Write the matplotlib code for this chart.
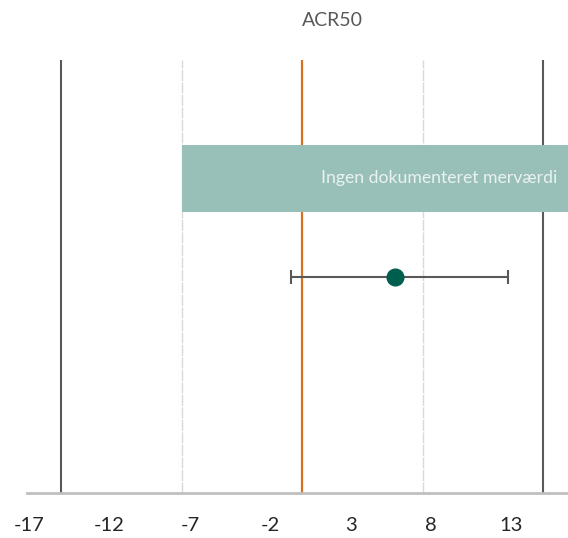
import matplotlib
matplotlib.use("Agg")
import matplotlib.pyplot as plt

plt.rcParams['font.family'] = ['Lato', 'DejaVu Sans']

title = "ACR50"
x_ticks = [-17, -12, -7, -2, 3, 8, 13]
boundary_lines = [-15, 15]
threshold_lines = [-7.5, 7.5]
null_line = 0
band_start = -7.5
band_label = "Ingen dokumenteret merværdi"
estimate = 5.75
ci_low = -0.7
ci_high = 12.8

fig = plt.figure(figsize=(5.68, 5.38), dpi=100)
ax = fig.add_axes([27 / 568, 1 - 493 / 538, 1 - 27 / 568, (493 - 60) / 538])
ax.set_xlim(-17.13, 16.53)
ax.set_ylim(0, 1)

# shaded region
ax.axvspan(band_start, ax.get_xlim()[1] + 1, ymin=0.649, ymax=0.804,
           color='#99C0B8', lw=0, zorder=3)
ax.text(15.9, 0.727, band_label, ha='right', va='center', fontsize=12.7,
        color='#EAF2F0', zorder=4)

for xv in boundary_lines:
    ax.axvline(xv, color='#595959', lw=1.5, zorder=2)
for xv in threshold_lines:
    ax.axvline(xv, color='#D9D9D9', lw=1.0, ls=(0, (8, 1)), zorder=2)
ax.axvline(null_line, color='#D8701E', lw=1.6, zorder=2)

ax.errorbar([estimate], [0.499], xerr=[[estimate - ci_low], [ci_high - estimate]],
            fmt='o', color='#005E4F', ms=12, ecolor='#595959', elinewidth=1.5,
            capsize=5, capthick=1.5, zorder=5)

for side in ['top', 'right', 'left']:
    ax.spines[side].set_visible(False)
ax.spines['bottom'].set_color('#BFBFBF')
ax.spines['bottom'].set_linewidth(2)
ax.set_yticks([])
ax.set_xticks(x_ticks)
ax.set_xticklabels([str(t) for t in x_ticks], fontsize=14.5, color='#262626')
ax.tick_params(axis='x', length=0, pad=17)

fig.text(332 / 568, 1 - 20 / 538, title, ha='center', va='center', fontsize=14,
         color='#595959')

fig.savefig("out.png", dpi=100)
